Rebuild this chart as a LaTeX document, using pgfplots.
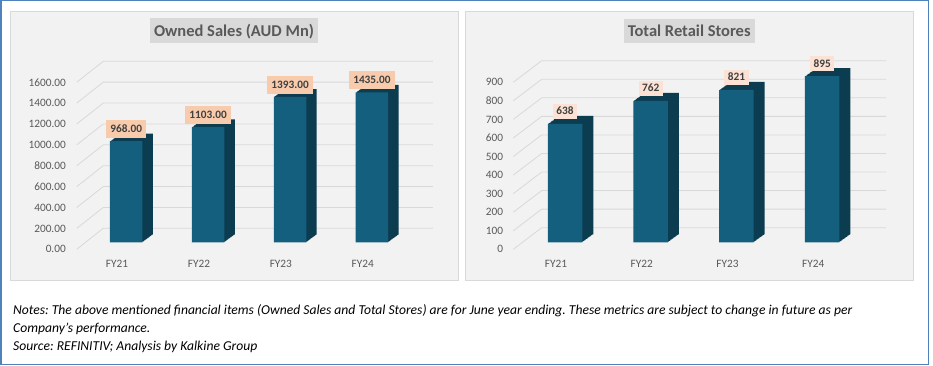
\documentclass[border=0pt]{standalone}
\usepackage{pgfplots}
\pgfplotsset{compat=1.18}
\usepackage{pgfplotstable}
\usepackage{fontspec}
\setmainfont{Carlito}
\frenchspacing
\definecolor{barfront}{HTML}{145E7E}
\definecolor{barside}{HTML}{0C3C50}
\definecolor{gridc}{HTML}{D9D9D9}
\definecolor{panelbg}{HTML}{F2F2F2}
\definecolor{panelline}{HTML}{D9D9D9}
\definecolor{titlebox}{HTML}{D9D9D9}
\definecolor{titletext}{HTML}{595959}
\definecolor{ticktext}{HTML}{595959}
\definecolor{labtext}{HTML}{404040}
\definecolor{labA}{HTML}{F8CBAD}
\definecolor{labB}{HTML}{FBE2D5}
\definecolor{outerc}{HTML}{4F81BD}

\pgfplotstableread{
x v lab
0 968 968.00
1 1103 1103.00
2 1393 1393.00
3 1435 1435.00
}\sales
\pgfplotstableread{
x v lab
0 638 638
1 762 762
2 821 821
3 895 895
}\stores

\pgfplotsset{panelaxis/.style={scale only axis, clip=false, enlargelimits=false,
  axis line style={draw=none}, major tick length=0pt, tick style={draw=none},
  xtick={0,1,2,3}, xticklabels={FY21,FY22,FY23,FY24},
  ticklabel style={font=\fontsize{11.3}{13}\selectfont, text=ticktext},
  yticklabel style={anchor=east, inner sep=0pt, yshift=-7pt},
  anchor=south west}}

\begin{document}
\begin{tikzpicture}
\fill[white] (0pt,0pt) rectangle (933pt,365pt);
\draw[fill=panelbg, draw=panelline, line width=0.8pt] (10pt,85pt) rectangle (458.3pt,353.3pt);
\draw[fill=panelbg, draw=panelline, line width=0.8pt] (465pt,85pt) rectangle (913.3pt,353.3pt);
\node[fill=titlebox, text=titletext, font=\bfseries\fontsize{16.5}{18}\selectfont, inner xsep=4pt, inner ysep=7pt, text height=10.7pt, text depth=0pt] at (234pt,334.2pt) {Owned Sales (AUD Mn)};
\node[fill=titlebox, text=titletext, font=\bfseries\fontsize{16.5}{18}\selectfont, inner xsep=4pt, inner ysep=7pt, text height=10.7pt, text depth=0pt] at (689.2pt,334pt) {Total Retail Stores};

% Left panel
\begin{axis}[panelaxis, at={(66pt,112.26pt)}, width=367.4pt, height=208.8pt,
  xmin=-0.7348, xmax=3.75, ymin=-100, ymax=1900,
  ytick={0,200,400,600,800,1000,1200,1400,1600},
  yticklabels={0.00,200.00,400.00,600.00,800.00,1000.00,1200.00,1400.00,1600.00},
  xticklabel style={anchor=center, inner sep=0pt, xshift=-9.2pt, yshift=-11.3pt}]
\pgfplotsinvokeforeach{0,200,...,1600}{
  \draw[gridc, line width=0.8pt] (axis cs:-0.6042,{#1-67.05}) -- (axis cs:-0.2795,{#1+134.1}) -- (axis cs:3.745,{#1+134.1});
}
\pgfplotsinvokeforeach{12,11,...,1}{
  \addplot[ybar, bar width=32.5pt, bar shift=0pt, fill=barside, draw=none, xshift=#1*0.8667pt, yshift=#1*0.6417pt] table[x=x,y=v]{\sales};
}
\addplot[ybar, bar width=32.5pt, bar shift=0pt, fill=barfront, draw=none,
  point meta=explicit symbolic, nodes near coords,
  every node near coord/.append style={font=\bfseries\fontsize{11.3}{13}\selectfont, text=labtext, fill=labA, inner xsep=4pt, inner ysep=5.4pt, text height=7.2pt, text depth=0pt, anchor=south, yshift=3pt}]
  table[x=x,y=v,meta=lab]{\sales};
\end{axis}

% Right panel
\begin{axis}[panelaxis, at={(503.3pt,111.57pt)}, width=383.2pt, height=196.7pt,
  xmin=-0.7197, xmax=3.75, ymin=-60, ymax=1000,
  ytick={0,100,200,300,400,500,600,700,800,900},
  yticklabels={0,100,200,300,400,500,600,700,800,900},
  xticklabel style={anchor=center, inner sep=0pt, xshift=-9pt, yshift=-10.57pt}]
\pgfplotsinvokeforeach{0,100,...,900}{
  \draw[gridc, line width=0.8pt] (axis cs:-0.603,{#1-37.7}) -- (axis cs:-0.2718,{#1+78.7}) -- (axis cs:3.744,{#1+78.7});
}
\pgfplotsinvokeforeach{12,11,...,1}{
  \addplot[ybar, bar width=34.5pt, bar shift=0pt, fill=barside, draw=none, xshift=#1*0.9167pt, yshift=#1*0.6667pt] table[x=x,y=v]{\stores};
}
\addplot[ybar, bar width=34.5pt, bar shift=0pt, fill=barfront, draw=none,
  point meta=explicit symbolic, nodes near coords,
  every node near coord/.append style={font=\bfseries\fontsize{11.3}{13}\selectfont, text=labtext, fill=labB, inner xsep=3.5pt, inner ysep=3.9pt, text height=7.2pt, text depth=0pt, anchor=south, yshift=5pt}]
  table[x=x,y=v,meta=lab]{\stores};
\end{axis}

\node[anchor=base west, inner sep=0pt, font=\itshape\fontsize{13.6}{15}\selectfont] at (13pt,50.6pt) {Notes: The above mentioned financial items (Owned Sales and Total Stores) are for June year ending. These metrics are subject to change in future as per};
\node[anchor=base west, inner sep=0pt, font=\itshape\fontsize{13.6}{15}\selectfont] at (13pt,32.5pt) {Company’s performance.};
\node[anchor=base west, inner sep=0pt, font=\itshape\fontsize{13.6}{15}\selectfont] at (13pt,14.2pt) {Source: REFINITIV; Analysis by Kalkine Group};

\draw[outerc, line width=1.5pt] (0.75pt,0.75pt) rectangle (928.5pt,364.25pt);
\end{tikzpicture}
\end{document}
